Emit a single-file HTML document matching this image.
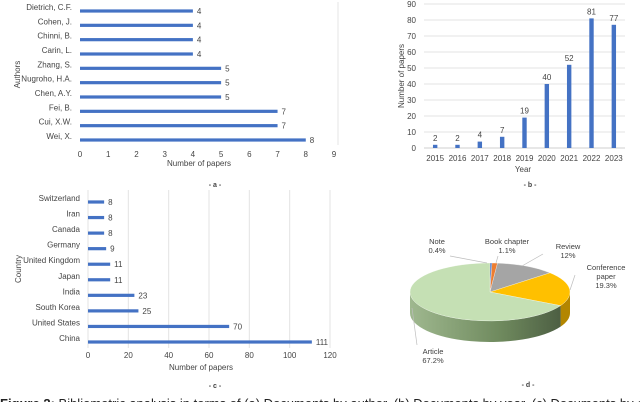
<!DOCTYPE html>
<html><head><meta charset="utf-8"><style>
html,body{margin:0;padding:0;background:#fff;overflow:hidden}
svg{display:block;font-family:"Liberation Sans",sans-serif}
</style></head><body>
<svg id="fig" width="640" height="402" viewBox="0 0 640 402" xmlns="http://www.w3.org/2000/svg">
<g id="pa"></g>
<g id="pb"></g>
<g id="pc"></g>
<g id="pd"></g>
<text x="0" y="408" font-size="13" fill="#222"><tspan font-weight="bold">Figure 2:</tspan> Bibliometric analysis in terms of (a) Documents by author, (b) Documents by year, (c) Documents by country</text>
</svg>
<script>
const authorCats=["Dietrich, C.F.","Cohen, J.","Chinni, B.","Carin, L.","Zhang, S.","Nugroho, H.A.","Chen, A.Y.","Fei, B.","Cui, X.W.","Wei, X."];
const authorVals=[4,4,4,4,5,5,5,7,7,8];
const authorTicks=[0,1,2,3,4,5,6,7,8,9];
const yearCats=["2015","2016","2017","2018","2019","2020","2021","2022","2023"];
const yearVals=[2,2,4,7,19,40,52,81,77];
const yearTicks=[0,10,20,30,40,50,60,70,80,90];
const countryCats=["Switzerland","Iran","Canada","Germany","United Kingdom","Japan","India","South Korea","United States","China"];
const countryVals=[8,8,8,9,11,11,23,25,70,111];
const countryTicks=[0,20,40,60,80,100,120];
const docCats=["Note","Book chapter","Review","Conference paper","Article"];
const docVals=[0.4,1.1,12,19.3,67.2];
const docLabels=["0.4%","1.1%","12%","19.3%","67.2%"];

const NS="http://www.w3.org/2000/svg";
const BLUE="#4472C4";
function el(p,t,a){const e=document.createElementNS(NS,t);for(const k in a)e.setAttribute(k,a[k]);p.appendChild(e);return e;}
function txt(p,x,y,s,a){const e=el(p,"text",Object.assign({x:x,y:y,"font-size":8,fill:"#444"},a||{}));e.textContent=s;return e;}

function hbar(g,cats,vals,ticks,x0,x1,yTop,yBot,gridTop,gridBot,showGrid,ytitle,ytx,xt,xty,tag){
  const max=ticks[ticks.length-1];
  const sx=v=>x0+(x1-x0)*v/max;
  const step=(yBot-yTop)/(cats.length-1);
  if(showGrid){ticks.forEach(t=>{const l=el(g,"line",{x1:sx(t),x2:sx(t),y1:gridTop,y2:gridBot,stroke:"#e3e3e3","stroke-width":1});
    
    });}
  ticks.forEach(t=>{const e=txt(g,sx(t),gridBot+10,String(t),{"text-anchor":"middle"});
    
    });
  cats.forEach((c,i)=>{const y=yTop+i*step;
    const r=el(g,"rect",{x:x0,y:y-1.6,width:sx(vals[i])-x0,height:3.2,fill:BLUE});
    
    
    const l=txt(g,x0-8,y-1,c,{"text-anchor":"end"});
    
    
    const v=txt(g,sx(vals[i])+4,y+3,String(vals[i]));
    
    });
  const yt=txt(g,0,0,ytitle,{"text-anchor":"middle",transform:`translate(${ytx},${(gridTop+gridBot)/2}) rotate(-90)`});
  
  
  const xtt=txt(g,(x0+x1)/2-8,xty,"Number of papers",{"text-anchor":"middle"});
  
  
}
const pa=document.getElementById("pa");
hbar(pa,authorCats,authorVals,authorTicks,80,334,11,140,2,147,false,"Authors",20,0,166,"author");
el(pa,"line",{x1:338,x2:338,y1:2,y2:145,stroke:"#e6e6e6"});
txt(pa,215,187,"- a -",{"text-anchor":"middle","font-size":7,"font-weight":"bold"});
const pc=document.getElementById("pc");
hbar(pc,countryCats,countryVals,countryTicks,88,330,202,342,190,348,true,"Country",21,0,370,"country");
txt(pc,215,388,"- c -",{"text-anchor":"middle","font-size":7,"font-weight":"bold"});

// panel b
const pb=document.getElementById("pb");
(function(){
  const x0=424,x1=625,y0=148,y1=4,max=yearTicks[yearTicks.length-1];
  const sy=v=>y0-(y0-y1)*v/max;
  const bw=(x1-x0)/yearCats.length;
  yearTicks.forEach(t=>{const l=el(pb,"line",{x1:x0,x2:x1,y1:sy(t),y2:sy(t),stroke:t===0?"#cfcfcf":"#e3e3e3"});
    
    
    const e=txt(pb,416,sy(t)+3,String(t),{"text-anchor":"end"});
    
    });
  yearCats.forEach((c,i)=>{const cx=x0+bw*(i+0.5);
    const r=el(pb,"rect",{x:cx-2.2,y:sy(yearVals[i]),width:4.4,height:y0-sy(yearVals[i]),fill:BLUE});
    
    
    const v=txt(pb,cx,sy(yearVals[i])-4,String(yearVals[i]),{"text-anchor":"middle"});
    
    
    const l=txt(pb,cx,161,c,{"text-anchor":"middle"});
    
    });
  txt(pb,523,172,"Year",{"text-anchor":"middle"});
  txt(pb,0,0,"Number of papers",{"text-anchor":"middle",transform:"translate(404,76) rotate(-90)"});
  txt(pb,530,187,"- b -",{"text-anchor":"middle","font-size":7,"font-weight":"bold"});
})();

// panel d pie
const pd=document.getElementById("pd");
(function(){
  const cx=490,cy=292,rx=80,ry=29,depth=21;
  const colors=["#4472C4","#ED7D31","#A5A5A5","#FFC000","#C5E0B4"];
  const sides=["#2f4f88","#a9561f","#6e6e6e","#b38600","#7d9a6a"];
  const total=docVals.reduce((a,b)=>a+b,0);
  const pt=(a,dy)=>[cx+rx*Math.sin(a),cy-ry*Math.cos(a)+(dy||0)];
  const defs=el(pd,"defs",{});
  const lg=el(defs,"linearGradient",{id:"sideg",x1:0,x2:1,y1:0,y2:0});
  el(lg,"stop",{offset:"0","stop-color":"#9fb88f"});
  el(lg,"stop",{offset:"0.6","stop-color":"#6f8a5e"});
  el(lg,"stop",{offset:"1","stop-color":"#4d5f43"});
  let acc=0;const angs=docVals.map(v=>{const a0=acc/total*2*Math.PI;acc+=v;return [a0,acc/total*2*Math.PI];});
  angs.forEach((a,i)=>{
    let s=Math.max(a[0],Math.PI/2),e=Math.min(a[1],3*Math.PI/2);
    if(e<=s)return;
    const p1=pt(s),p2=pt(e),p3=pt(e,depth),p4=pt(s,depth);
    const d=`M${p1} A${rx},${ry} 0 ${e-s>Math.PI?1:0} 1 ${p2} L${p3} A${rx},${ry} 0 ${e-s>Math.PI?1:0} 0 ${p4} Z`;
    const p=el(pd,"path",{d:d,fill:i===4?"url(#sideg)":sides[i]});
    
    
  });
  angs.forEach((a,i)=>{
    const p1=pt(a[0]),p2=pt(a[1]);
    const large=a[1]-a[0]>Math.PI?1:0;
    const p=el(pd,"path",{d:`M${cx},${cy} L${p1} A${rx},${ry} 0 ${large} 1 ${p2} Z`,fill:colors[i],stroke:"#fff","stroke-width":0.3});
    
    
  });
  const labelPos=[[437,244],[507,244],[568,249],[606,270],[433,354]];
  const lines=[[[450,256],[487,263]],[[498,256],[496,263]],[[543,254],[522,266]],[[575,275],[570,290]],[[417,345],[412,308]]];
  docCats.forEach((c,i)=>{
    const L=lines[i];
    const ln=el(pd,"polyline",{points:L.map(p=>p.join(",")).join(" "),fill:"none",stroke:"#bdbdbd","stroke-width":0.7});
    
    
    const [x,y]=labelPos[i];
    const parts=c==="Conference paper"?["Conference","paper"]:[c];
    parts.concat([docLabels[i]]).forEach((s,j)=>{
      const t=txt(pd,x,y+j*9,s,{"text-anchor":"middle","font-size":7.5,fill:"#404040"});
      
      
    });
  });
  txt(pd,528,387,"- d -",{"text-anchor":"middle","font-size":7,"font-weight":"bold"});
})();
</script>
</body></html>
